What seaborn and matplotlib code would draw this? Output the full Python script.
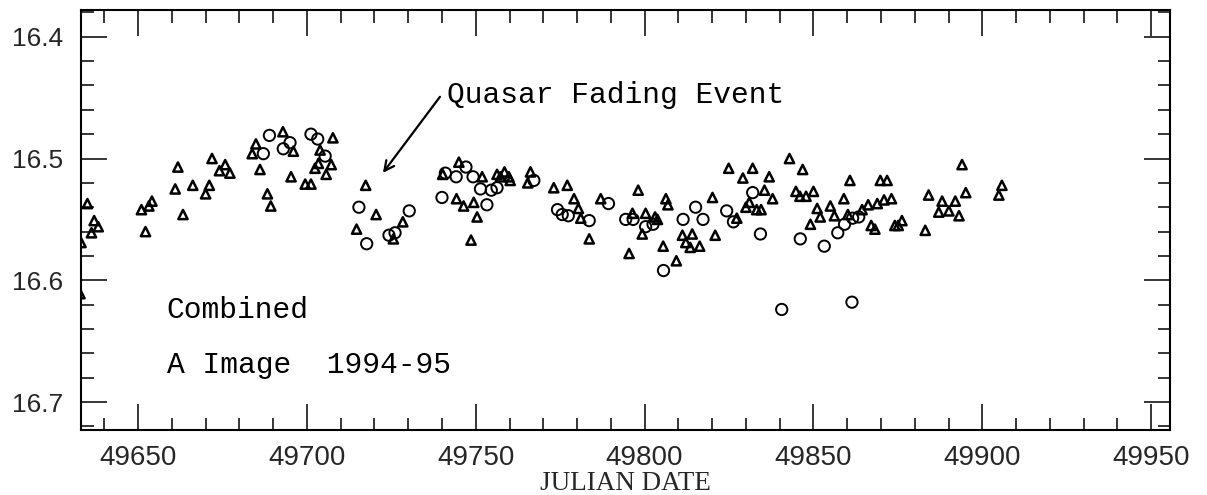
import matplotlib
matplotlib.use("Agg")
import matplotlib.pyplot as plt
from matplotlib.ticker import MultipleLocator, FormatStrFormatter
import pandas as pd
import seaborn as sns

# Circles (one data set), Julian date and magnitude
circle_jd = [49687.1, 49688.9, 49693.0, 49695.0, 49701.2, 49703.2, 49705.4, 49715.4, 49717.7, 49724.3,
             49726.1, 49730.3, 49740.0, 49741.0, 49744.2, 49747.1, 49749.2, 49751.4, 49753.3, 49754.6,
             49756.3, 49767.2, 49774.2, 49775.6, 49777.4, 49783.6, 49789.3, 49794.4, 49796.6, 49800.3,
             49802.5, 49805.6, 49811.4, 49815.1, 49817.3, 49824.3, 49826.3, 49832.0, 49834.3, 49840.6,
             49846.1, 49853.2, 49857.2, 49859.2, 49861.4, 49861.6, 49863.4]
circle_mag = [16.496, 16.481, 16.492, 16.487, 16.480, 16.484, 16.498, 16.540, 16.570, 16.563,
              16.561, 16.543, 16.532, 16.512, 16.515, 16.507, 16.515, 16.525, 16.538, 16.526,
              16.524, 16.518, 16.542, 16.546, 16.547, 16.551, 16.537, 16.550, 16.550, 16.556,
              16.554, 16.592, 16.550, 16.540, 16.550, 16.543, 16.552, 16.528, 16.562, 16.624,
              16.566, 16.572, 16.561, 16.554, 16.618, 16.549, 16.548]

# Triangles (other data set)
tri_jd = [49632.8, 49633.1, 49635.0, 49637.0, 49638.2, 49636.2, 49651.0, 49653.2, 49654.1, 49652.2,
          49661.0, 49661.8, 49663.3, 49666.2, 49670.0, 49671.1, 49671.9, 49674.1, 49675.8, 49677.2,
          49683.8, 49684.9, 49686.1, 49688.3, 49689.3, 49692.9, 49696.0, 49695.3, 49699.5, 49701.2,
          49702.4, 49703.4, 49703.9, 49707.2, 49705.7, 49707.7, 49717.4, 49720.5, 49714.7, 49725.6,
          49728.4, 49740.2, 49745.0, 49744.3, 49746.4, 49749.4, 49750.4, 49748.6, 49751.9, 49756.3,
          49757.3, 49758.5, 49759.8, 49760.2, 49766.2, 49765.4, 49773.1, 49777.1, 49779.1, 49780.4,
          49781.1, 49783.6, 49787.0, 49798.1, 49796.4, 49800.3, 49803.1, 49803.8, 49799.3, 49795.4,
          49806.3, 49806.9, 49805.5, 49809.4, 49811.2, 49814.1, 49812.2, 49813.5, 49816.3, 49820.1,
          49820.9, 49824.9, 49829.1, 49832.0, 49836.9, 49842.9, 49846.8, 49835.5, 49837.9, 49831.0,
          49830.0, 49833.2, 49834.5, 49827.3, 49844.8, 49846.0, 49847.8, 49850.0, 49851.1, 49852.0,
          49849.1, 49855.0, 49856.2, 49859.0, 49860.8, 49860.2, 49864.4, 49866.2, 49867.1, 49868.2,
          49868.9, 49870.9, 49873.1, 49869.8, 49871.8, 49874.1, 49875.1, 49876.2, 49883.1, 49884.1,
          49888.1, 49892.0, 49895.1, 49887.1, 49890.1, 49893.1, 49894.0, 49904.9, 49905.8]
tri_mag = [16.611, 16.569, 16.537, 16.551, 16.556, 16.561, 16.542, 16.539, 16.535, 16.560,
           16.525, 16.507, 16.546, 16.522, 16.529, 16.522, 16.500, 16.510, 16.505, 16.512,
           16.496, 16.488, 16.509, 16.529, 16.539, 16.478, 16.494, 16.515, 16.521, 16.521,
           16.508, 16.504, 16.493, 16.505, 16.513, 16.483, 16.522, 16.546, 16.558, 16.566,
           16.552, 16.513, 16.503, 16.533, 16.539, 16.536, 16.548, 16.567, 16.515, 16.513,
           16.515, 16.511, 16.515, 16.518, 16.511, 16.520, 16.524, 16.522, 16.533, 16.541,
           16.549, 16.566, 16.533, 16.526, 16.545, 16.545, 16.548, 16.550, 16.562, 16.578,
           16.533, 16.538, 16.572, 16.584, 16.563, 16.562, 16.569, 16.573, 16.572, 16.532,
           16.563, 16.508, 16.516, 16.508, 16.515, 16.500, 16.509, 16.526, 16.533, 16.536,
           16.540, 16.542, 16.542, 16.549, 16.527, 16.531, 16.531, 16.527, 16.541, 16.548,
           16.554, 16.539, 16.547, 16.533, 16.518, 16.546, 16.542, 16.538, 16.555, 16.558,
           16.537, 16.534, 16.533, 16.518, 16.518, 16.555, 16.555, 16.551, 16.559, 16.530,
           16.535, 16.535, 16.528, 16.544, 16.543, 16.547, 16.505, 16.530, 16.522]

y_ticks = [16.4, 16.5, 16.6, 16.7]
x_ticks = [49650, 49700, 49750, 49800, 49850, 49900, 49950]

circles = pd.DataFrame({"jd": circle_jd, "mag": circle_mag})
triangles = pd.DataFrame({"jd": tri_jd, "mag": tri_mag})

sns.set_style("ticks")
plt.rcParams["font.family"] = ["Liberation Sans", "DejaVu Sans"]

fig = plt.figure(figsize=(12.07, 4.95), dpi=100)
ax = fig.add_axes([0.0671, 0.1313, 0.9023, 0.8485])

sns.scatterplot(data=triangles, x="jd", y="mag", marker="^", s=44, facecolor="none",
                edgecolor="black", linewidth=1.8, ax=ax)
sns.scatterplot(data=circles, x="jd", y="mag", marker="o", s=66, facecolor="none",
                edgecolor="black", linewidth=1.4, ax=ax)

ax.set_xlim(49633.1, 49955.6)
ax.set_ylim(16.723, 16.378)

ax.set_xticks(x_ticks)
ax.set_yticks(y_ticks)
ax.xaxis.set_minor_locator(MultipleLocator(10))
ax.yaxis.set_minor_locator(MultipleLocator(0.02))
ax.yaxis.set_major_formatter(FormatStrFormatter("%.1f"))

ax.tick_params(which="both", direction="in", top=True, right=True, width=1.1, color="black")
ax.tick_params(which="major", length=18.5)
ax.tick_params(which="minor", length=9)
ax.tick_params(axis="x", which="major", labelsize=20, pad=11)
ax.tick_params(axis="y", which="major", labelsize=19, pad=13)
for spine in ax.spines.values():
    spine.set_linewidth(1.5)
    spine.set_color("black")

ax.set_xlabel("JULIAN DATE", family="Liberation Serif", fontsize=19.5, labelpad=0)
ax.set_ylabel("")

# Annotations
mono = dict(family="Liberation Mono", fontsize=21.3, color="black")
ax.text(49741.5, 16.4543, "Quasar Fading Event", ha="left", va="baseline", **mono)
ax.annotate("", xy=(49722.5, 16.5118), xytext=(49739.4, 16.4493),
            arrowprops=dict(arrowstyle="->,head_length=0.7,head_width=0.35", lw=1.6,
                            color="black", shrinkA=0, shrinkB=0))
ax.text(49658.5, 16.6312, "Combined", ha="left", va="baseline", **mono)
ax.text(49658.5, 16.6759, "A Image  1994-95", ha="left", va="baseline", **mono)

fig.savefig("out.png", dpi=100)
